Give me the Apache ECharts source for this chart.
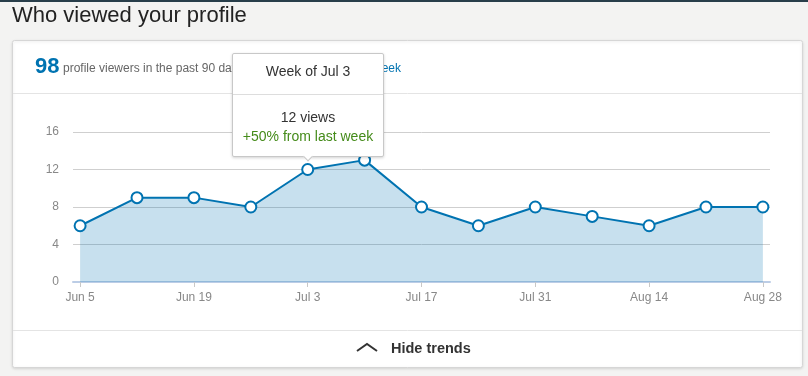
<!DOCTYPE html>
<html>
<head>
<meta charset="utf-8">
<script src="https://cdn.jsdelivr.net/npm/echarts@6/dist/echarts.min.js"></script>
<style>
  html, body { margin: 0; padding: 0; background: #f3f3f2; }
  #viewers { width: 808px; height: 376px; }
</style>
</head>
<body>
<div id="viewers"></div>
<script>
// weekly profile views
var weeks = ['Jun 5', 'Jun 12', 'Jun 19', 'Jun 26', 'Jul 3', 'Jul 10', 'Jul 17',
  'Jul 24', 'Jul 31', 'Aug 7', 'Aug 14', 'Aug 21', 'Aug 28']
var views = [6, 9, 9, 8, 12, 13, 8, 6, 8, 7, 6, 8, 8]
var labeledWeeks = ['Jun 5', 'Jun 19', 'Jul 3', 'Jul 17', 'Jul 31', 'Aug 14', 'Aug 28']
var yTicks = [0, 4, 8, 12, 16]
var totalViewers = 98
var focusWeek = 'Jul 3'

var font = '"Liberation Sans", "Noto Sans", sans-serif'
var blue = '#0073b1'

var labeledIdx = labeledWeeks.map(function (w) { return weeks.indexOf(w) })
var points = views.map(function (v, i) { return [i, v] })

function tipHtml (idx) {
  var prev = views[idx - 1]
  var pct = Math.round((views[idx] - prev) / prev * 100)
  var sign = pct >= 0 ? '+' : ''
  var color = pct >= 0 ? '#458b1a' : '#b24020'
  return '<div style="width:150px;text-align:center;font-family:' + font.replace(/"/g, "'") +
    ';font-size:14px;color:#333;line-height:19px">' +
    '<div style="padding:8px 0 13px">Week of ' + weeks[idx] + '</div>' +
    '<div style="border-top:1px solid #ddd;padding:13px 0 10px">' + views[idx] + ' views<br>' +
    '<span style="color:' + color + '">' + sign + pct + '% from last week</span></div></div>'
}

var chart = echarts.init(document.getElementById('viewers'), null, {renderer: 'canvas'})

var option = {
  animation: false,
  textStyle: {fontFamily: font},
  grid: {left: 73, right: 38, top: 132, bottom: 94},
  tooltip: {
    trigger: 'item',
    alwaysShowContent: true,
    triggerOn: 'none',
    position: 'top',
    padding: 0,
    backgroundColor: '#fff',
    borderColor: '#c8c8c8',
    borderWidth: 1,
    extraCssText: 'box-shadow:0 1px 3px rgba(0,0,0,0.18);border-radius:2px;margin-top:4px;',
    formatter: function (p) { return tipHtml(p.dataIndex) }
  },
  xAxis: {
    type: 'value',
    min: -0.125,
    max: weeks.length - 1 + 0.125,
    splitLine: {show: false},
    axisLine: {show: true, lineStyle: {color: '#bccde6', width: 2}},
    axisTick: {show: true, customValues: labeledIdx, length: 5, lineStyle: {color: '#c8c8c8'}},
    axisLabel: {
      customValues: labeledIdx,
      color: '#888',
      fontSize: 12,
      margin: 10,
      formatter: function (v) { return weeks[Math.round(v)] }
    }
  },
  yAxis: {
    type: 'value',
    min: yTicks[0],
    max: yTicks[yTicks.length - 1],
    interval: yTicks[1] - yTicks[0],
    axisLine: {show: false},
    axisTick: {show: false},
    axisLabel: {color: '#888', fontSize: 12, margin: 14},
    splitLine: {lineStyle: {color: '#cfcfcf', width: 1}}
  },
  series: [{
    type: 'line',
    data: points,
    symbol: 'circle',
    symbolSize: 11,
    lineStyle: {color: blue, width: 2},
    itemStyle: {color: '#fff', borderColor: blue, borderWidth: 2},
    areaStyle: {color: blue, opacity: 0.22},
    z: 3
  }],
  graphic: [
    {type: 'rect', left: 0, top: 0, shape: {width: 808, height: 2}, style: {fill: '#283e4a'}, silent: true},
    {type: 'text', left: 12, top: 5, style: {text: 'Who viewed your profile', font: '22px ' + font, fill: '#222'}, silent: true},
    {
      type: 'rect', z: -10, silent: true,
      shape: {x: 12.5, y: 40.5, width: 790, height: 327, r: 2},
      style: {fill: '#fff', stroke: '#d6d6d6', lineWidth: 1, shadowBlur: 3, shadowOffsetY: 1, shadowColor: 'rgba(0,0,0,0.12)'}
    },
    {type: 'line', z: -5, silent: true, shape: {x1: 13, y1: 93.5, x2: 802, y2: 93.5}, style: {stroke: '#e4e4e4', lineWidth: 1}},
    {type: 'line', z: -5, silent: true, shape: {x1: 13, y1: 330.5, x2: 802, y2: 330.5}, style: {stroke: '#e4e4e4', lineWidth: 1}},
    {type: 'text', left: 35, top: 56, silent: true, style: {text: String(totalViewers), font: 'bold 22px ' + font, fill: blue}},
    {type: 'text', left: 63, top: 63, silent: true, style: {text: 'profile viewers in the past 90 days', font: '12px ' + font, fill: '#666'}},
    {type: 'text', right: 407, top: 63, silent: true, style: {text: 'Up by week', font: '12px ' + font, fill: blue}},
    {
      type: 'polyline', silent: true,
      shape: {points: [[357, 351], [367, 344], [377, 351]]},
      style: {stroke: '#333', lineWidth: 2, fill: null}
    },
    {type: 'text', left: 391, top: 341, silent: true, style: {text: 'Hide trends', font: 'bold 14.5px ' + font, fill: '#333'}}
  ]
}

chart.setOption(option)
chart.dispatchAction({type: 'showTip', seriesIndex: 0, dataIndex: weeks.indexOf(focusWeek)})
</script>
</body>
</html>
